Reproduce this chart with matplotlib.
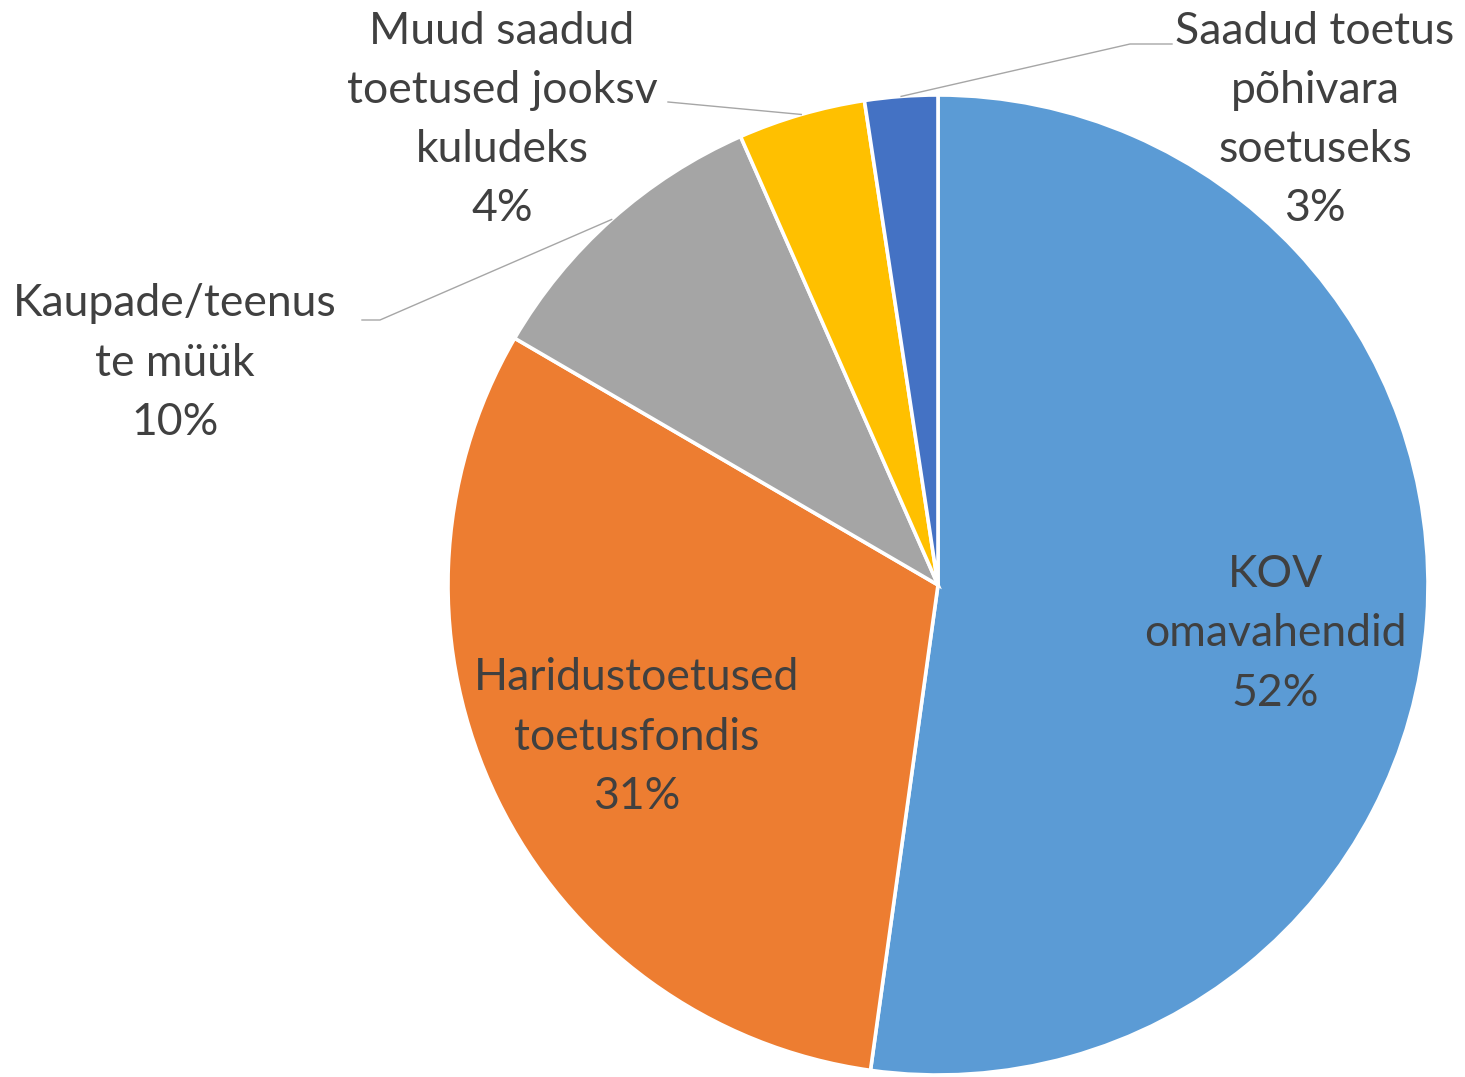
import matplotlib
matplotlib.use("Agg")
import matplotlib.pyplot as plt
import numpy as np

categories = ["KOV\nomavahendid", "Haridustoetused\ntoetusfondis", "Kaupade/teenus\nte müük",
              "Muud saadud\ntoetused jooksv\nkuludeks", "Saadud toetus\npõhivara\nsoetuseks"]
values = [52.2, 31.2, 10.0, 4.2, 2.4]
pct_labels = ["52%", "31%", "10%", "4%", "3%"]
colors = ["#5B9BD5", "#ED7D31", "#A5A5A5", "#FFC000", "#4472C4"]

W, H = 1465, 1077
plt.rcParams['font.family'] = ['Lato', 'DejaVu Sans']
fig = plt.figure(figsize=(W / 100, H / 100), dpi=100)
ax = fig.add_axes([0, 0, 1, 1])

def Y(y):
    return H - y

cx, cy, R = 938, Y(585), 490
wedges, _ = ax.pie(values, colors=colors, startangle=90, counterclock=False,
                   center=(cx, cy), radius=R, frame=True,
                   wedgeprops=dict(edgecolor="white", linewidth=2.6))
ax.set_xlim(0, W)
ax.set_ylim(0, H)
ax.axis("off")

txt_color = "#404040"
fs = 32
pos = [(1275, 634), (637, 737), (175, 363), (502, 120), (1315, 120)]
for i, (lab, p) in enumerate(zip(categories, pct_labels)):
    x, y = pos[i]
    ax.text(x, Y(y), lab + "\n" + p, ha="center", va="center", multialignment="center",
            fontsize=fs, color=txt_color, linespacing=1.55)

line_pts = {2: [(610, 218), (380, 320), (362, 320)],
            3: [(798, 112), (668, 102)],
            4: [(900, 95), (1130, 44), (1172, 44)]}
for i, pts in line_pts.items():
    w = wedges[i]
    ang = np.deg2rad((w.theta1 + w.theta2) / 2)
    ax_ = cx + R * np.cos(ang)
    ay_ = cy + R * np.sin(ang)
    xs = [ax_] + [p[0] for p in pts[1:]]
    ys = [ay_] + [Y(p[1]) for p in pts[1:]]
    ax.plot(xs, ys, color="#A6A6A6", lw=1.0)

fig.savefig("out.png", dpi=100, facecolor="white")
